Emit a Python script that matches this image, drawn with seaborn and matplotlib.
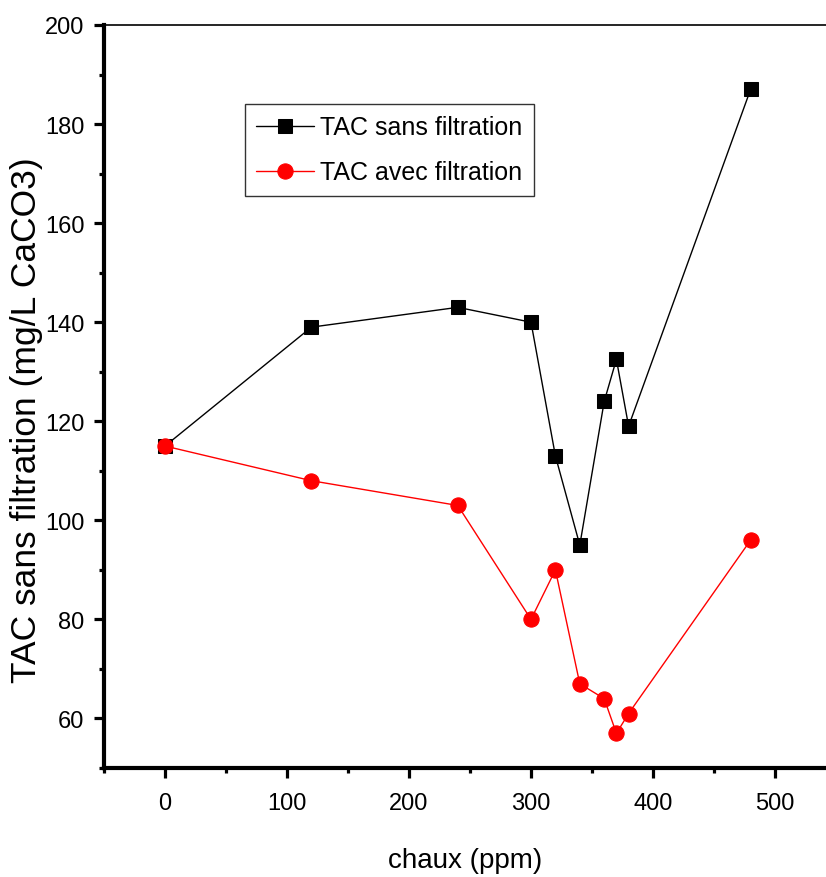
import seaborn as sns
import matplotlib.pyplot as plt
from matplotlib.ticker import MultipleLocator

# chaux dose (ppm)
chaux = [0, 120, 240, 300, 320, 340, 360, 370, 380, 480]
tac_sans = [115, 139, 143, 140, 113, 95, 124, 132.5, 119, 187]
tac_avec = [115, 108, 103, 80, 90, 67, 64, 57, 61, 96]

sns.set_style("ticks")
plt.rcParams['font.family'] = ['Liberation Sans', 'DejaVu Sans']
plt.rcParams['text.color'] = 'black'
plt.rcParams['axes.labelcolor'] = 'black'
plt.rcParams['xtick.color'] = 'black'
plt.rcParams['ytick.color'] = 'black'

fig = plt.figure(figsize=(8.26, 8.78), dpi=100)
ax = fig.add_axes([104 / 826, 1 - 769 / 878, 1 - 104 / 826, (769 - 26) / 878])

sns.lineplot(x=chaux, y=tac_sans, ax=ax, color='black', marker='s', markersize=10,
             linewidth=1.0, markeredgecolor='black', sort=False, label='TAC sans filtration')
sns.lineplot(x=chaux, y=tac_avec, ax=ax, color='red', marker='o', markersize=11,
             linewidth=1.0, markeredgecolor='red', sort=False, label='TAC avec filtration')

ax.set_xlim(-50, 541.8)
ax.set_ylim(50, 200)
ax.xaxis.set_major_locator(MultipleLocator(100))
ax.xaxis.set_minor_locator(MultipleLocator(50))
ax.yaxis.set_major_locator(MultipleLocator(20))
ax.yaxis.set_minor_locator(MultipleLocator(10))

ax.spines['right'].set_visible(False)
ax.spines['top'].set_linewidth(1.2)
ax.spines['left'].set_linewidth(3)
ax.spines['bottom'].set_linewidth(3)
for s in ax.spines.values():
    s.set_color('black')
ax.tick_params(which='major', direction='out', length=7, width=2.3, labelsize=17, pad=10)
ax.tick_params(which='minor', direction='out', length=3.5, width=2.3)
ax.tick_params(top=False, right=False, which='both')
ax.tick_params(axis='y', which='major', pad=7)

ax.set_xlabel('chaux (ppm)', fontsize=20, labelpad=24)
ax.set_ylabel('TAC sans filtration (mg/L CaCO3)', fontsize=25.5)
ax.yaxis.set_label_coords(-0.084, 0.47)

leg = ax.legend(loc='upper left', bbox_to_anchor=(245 / 826, 1 - 105 / 878),
                bbox_transform=fig.transFigure, fontsize=18, frameon=True, fancybox=False,
                handlelength=2.3, handletextpad=0.25, borderpad=0.45, labelspacing=0.85,
                borderaxespad=0)
leg.get_frame().set_edgecolor('black')
leg.get_frame().set_linewidth(1.0)

fig.savefig('out.png', dpi=100)
